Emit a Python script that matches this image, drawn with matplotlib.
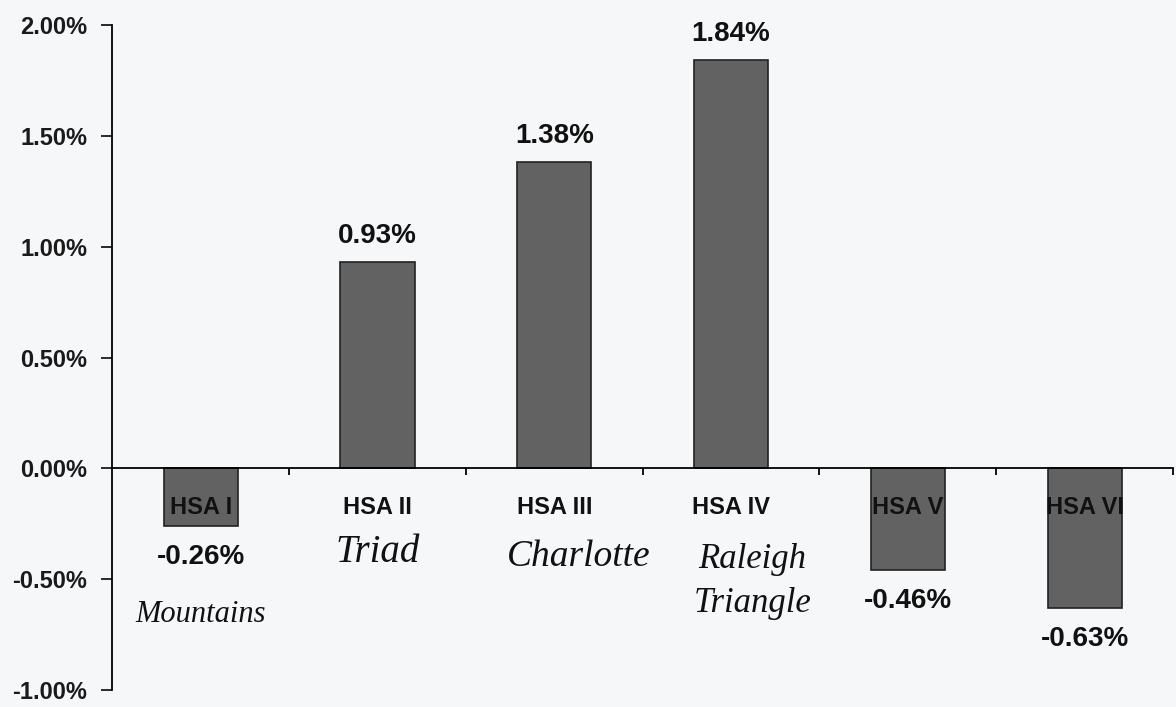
import numpy as np
import matplotlib.pyplot as plt

regions = ["HSA I", "HSA II", "HSA III", "HSA IV", "HSA V", "HSA VI"]
change = [-0.26, 0.93, 1.38, 1.84, -0.46, -0.63]
notes = ["Mountains", "Triad", "Charlotte", "Raleigh\nTriangle", "", ""]
yticks = [-1.0, -0.5, 0.0, 0.5, 1.0, 1.5, 2.0]

plt.rcParams['font.family'] = ['Liberation Sans', 'DejaVu Sans']

fig = plt.figure(figsize=(11.76, 7.07), dpi=100, facecolor='#f6f7f9')
ax = fig.add_axes([0.0955, 0.024, 0.902, 0.9406])
ax.set_facecolor('#f6f7f9')

x = np.arange(len(regions))
ax.bar(x, change, width=0.42, color='#626262', edgecolor='#222', linewidth=1.2, zorder=2)

ax.set_xlim(-0.5, len(regions) - 0.5)
ax.set_ylim(-1.0, 2.0)
ax.set_yticks(yticks)
ax.set_yticklabels([f"{v:.2f}%" for v in yticks], fontsize=17, fontweight='bold')
ax.tick_params(axis='y', direction='out', length=8, width=1.3, pad=10, colors='#1a1a1a')

ax.spines['right'].set_visible(False)
ax.spines['top'].set_visible(False)
ax.spines['bottom'].set_position(('data', 0))
ax.spines['left'].set_linewidth(1.3)
ax.spines['bottom'].set_linewidth(1.3)
ax.set_xticks(x + 0.5)
ax.set_xticklabels([])
ax.tick_params(axis='x', direction='out', length=5, width=1.3)

for i, v in enumerate(change):
    ax.text(i, -0.175, regions[i], ha='center', va='center', fontsize=17,
            fontweight='bold', color='#111', zorder=3)
    off = 0.12 if v > 0 else -0.14
    ax.text(i, v + off, f"{v:.2f}%", ha='center', va='center', fontsize=20,
            fontweight='bold', color='#111', zorder=3)

# handwritten notes
hand = dict(family='Liberation Serif', style='italic', color='#111', ha='center', va='center')
ax.text(0.0, -0.66, notes[0], fontsize=22, **hand)
ax.text(1.0, -0.38, notes[1], fontsize=28, **hand)
ax.text(2.14, -0.40, notes[2], fontsize=27, **hand)
ax.text(3.12, -0.51, notes[3], fontsize=25, linespacing=1.45, **hand)

fig.savefig("out.png", dpi=100, facecolor=fig.get_facecolor())
